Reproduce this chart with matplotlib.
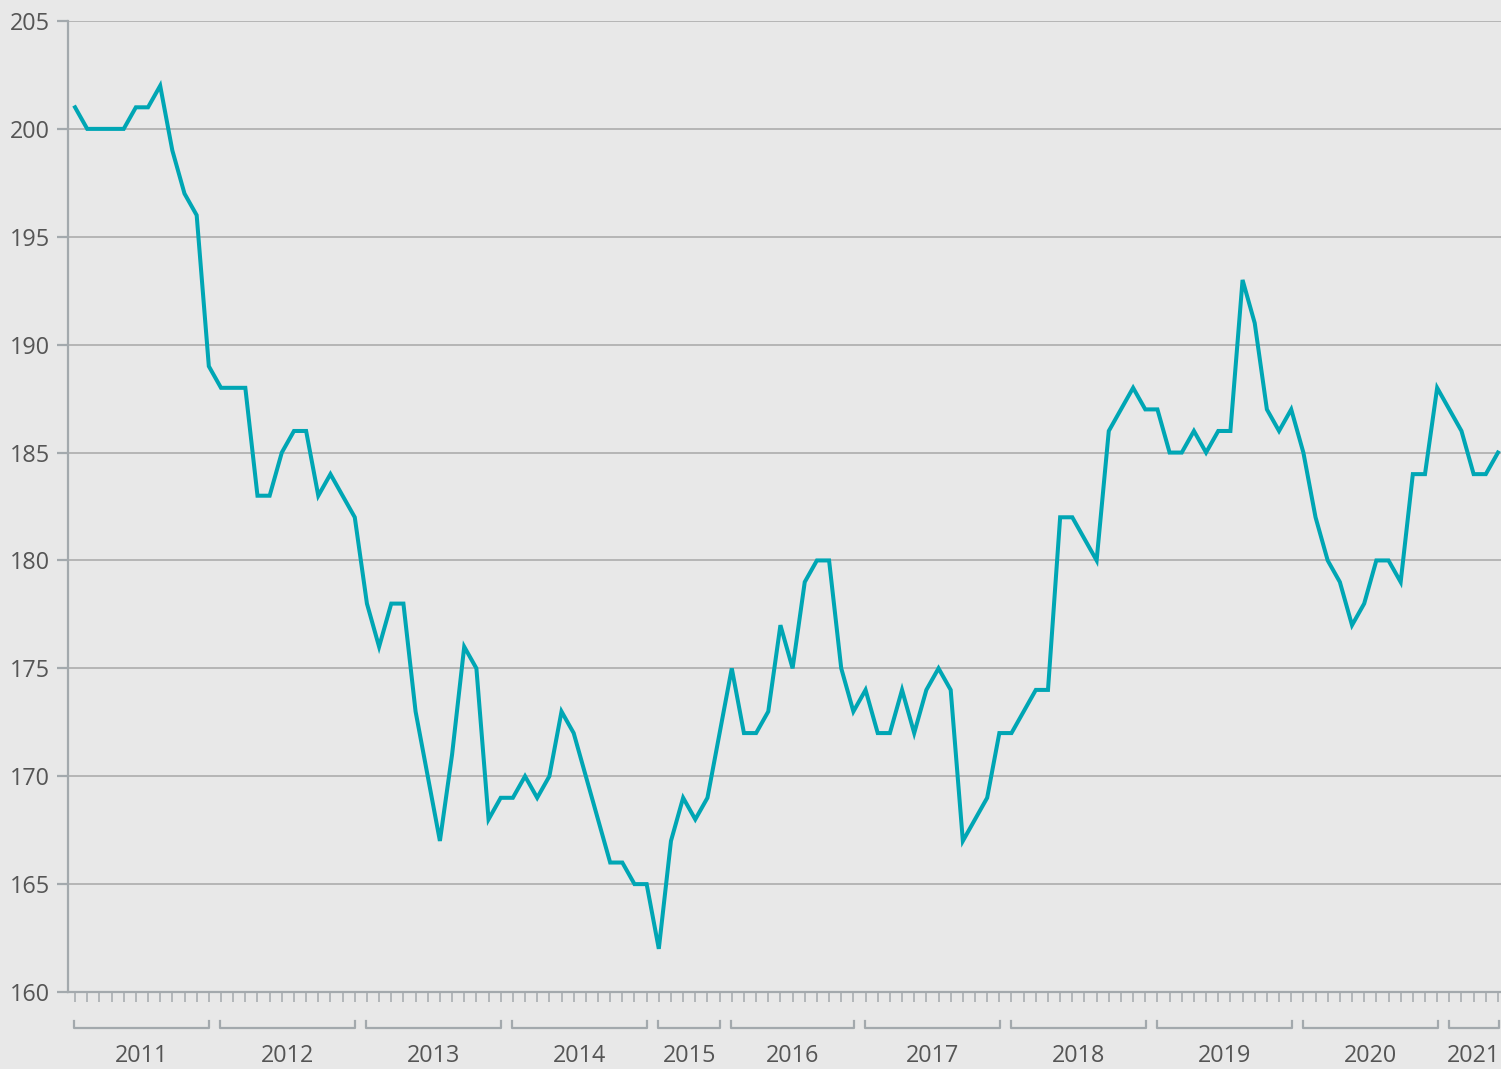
import matplotlib
matplotlib.use('Agg')
import matplotlib.pyplot as plt

plt.rcParams['font.family'] = ['Open Sans', 'DejaVu Sans']

# monthly values, grouped by year (2015, 2016 and 2021 are incomplete)
years = ['2011', '2012', '2013', '2014', '2015', '2016',
         '2017', '2018', '2019', '2020', '2021']
points_per_year = [12, 12, 12, 12, 6, 11, 12, 12, 12, 12, 5]

values = [201, 200, 200, 200, 200, 201, 201, 202, 199, 197, 196, 189,  # 2011
          188, 188, 188, 183, 183, 185, 186, 186, 183, 184, 183, 182,  # 2012
          178, 176, 178, 178, 173, 170, 167, 171, 176, 175, 168, 169,  # 2013
          169, 170, 169, 170, 173, 172, 170, 168, 166, 166, 165, 165,  # 2014
          162, 167, 169, 168, 169, 172,  # 2015
          175, 172, 172, 173, 177, 175, 179, 180, 180, 175, 173,  # 2016
          174, 172, 172, 174, 172, 174, 175, 174, 167, 168, 169, 172,  # 2017
          172, 173, 174, 174, 182, 182, 181, 180, 186, 187, 188, 187,  # 2018
          187, 185, 185, 186, 185, 186, 186, 193, 191, 187, 186, 187,  # 2019
          185, 182, 180, 179, 177, 178, 180, 180, 179, 184, 184, 188,  # 2020
          187, 186, 184, 184, 185]  # 2021

y_ticks = list(range(160, 206, 5))

bg = '#e8e8e8'
axis_col = '#a3a9ad'
grid_col = '#a8a8a8'
text_col = '#555555'
line_col = '#00a6b4'

W, H = 1501, 1069
fig = plt.figure(figsize=(W / 100, H / 100), dpi=100, facecolor=bg)
ax = fig.add_axes([68 / W, 1 - 992 / H, (W - 68) / W, (992 - 21) / H])
ax.set_facecolor(bg)

xs = list(range(len(values)))
ax.plot(xs, values, color=line_col, lw=2.9, solid_joinstyle='miter', zorder=3)

ax.set_ylim(160, 205)
ax.set_xlim(-0.58, 117.25)
ax.set_yticks(y_ticks)
ax.set_xticks(xs)
ax.set_xticklabels([])
ax.yaxis.grid(True, color=grid_col, lw=1.1)
ax.set_axisbelow(True)

for side in ['top', 'right']:
    ax.spines[side].set_visible(False)
for side in ['left', 'bottom']:
    ax.spines[side].set_color(axis_col)
    ax.spines[side].set_linewidth(1.6)

ax.tick_params(axis='y', length=8, width=1.6, color=axis_col, pad=5,
               labelsize=16.8, labelcolor=text_col)
ax.tick_params(axis='x', length=7.2, width=1.1, color=axis_col)

# year brackets under the month ticks
trans = ax.get_xaxis_transform()
y_bar = -36 / 971
y_cap = -29 / 971
y_lab = -64 / 971
start = 0
for year, n in zip(years, points_per_year):
    x0 = start - 0.05
    x1 = start + n - 1 + 0.05
    ax.plot([x0, x0, x1, x1], [y_cap, y_bar, y_bar, y_cap], color=axis_col,
            lw=1.6, transform=trans, clip_on=False)
    ax.text((x0 + x1) / 2, y_lab, year, transform=trans, ha='center', va='center',
            fontsize=16.8, color=text_col)
    start += n

fig.savefig('out.png', dpi=100, facecolor=bg)
